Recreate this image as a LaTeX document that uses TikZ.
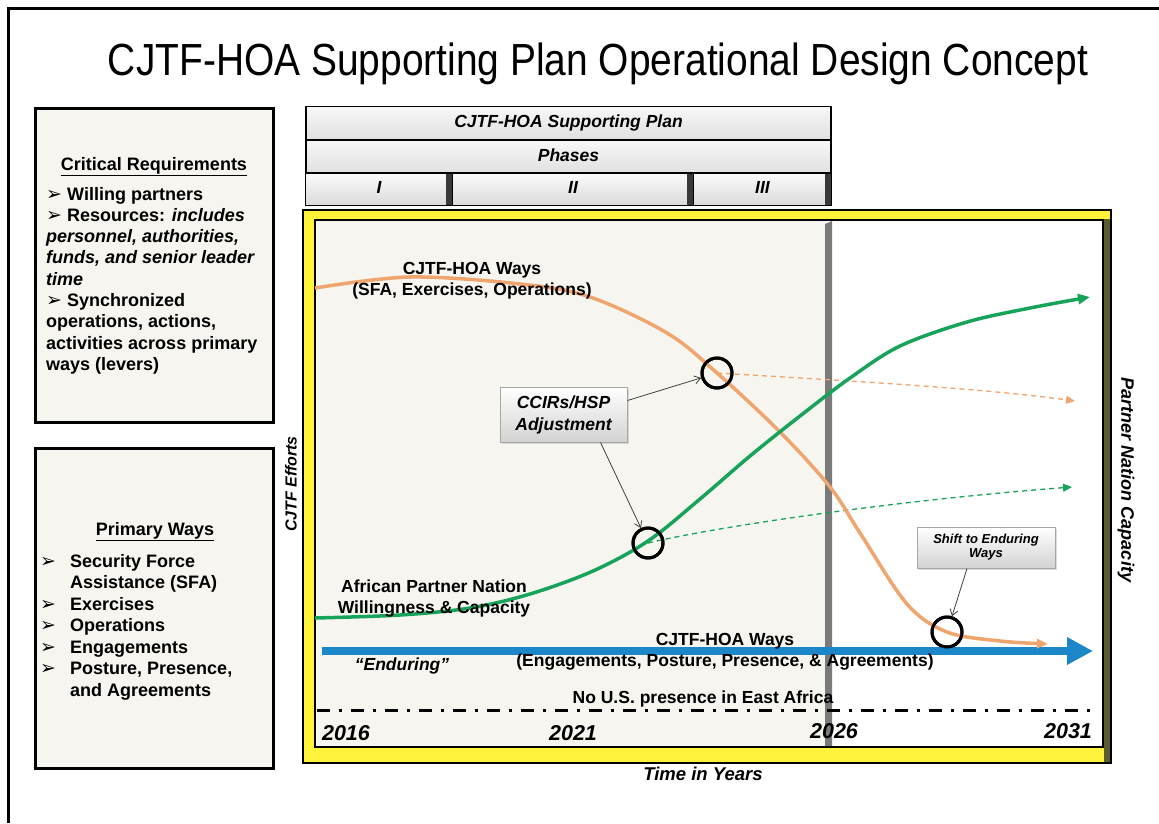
\documentclass[tikz,border=0pt]{standalone}
\usepackage{fontspec}
\setmainfont{Liberation Sans}
\newfontfamily\dejavu{DejaVu Sans}
\usetikzlibrary{arrows.meta,shadows,calc}

\definecolor{cjorange}{HTML}{F0A46E}
\definecolor{cjgreen}{HTML}{17A45A}
\definecolor{cjblue}{HTML}{1B87C9}
\definecolor{cjyellow}{HTML}{FFF23A}
\definecolor{cjolive}{HTML}{5E5A30}
\definecolor{paper}{HTML}{F6F5F0}
\definecolor{shadowgrey}{HTML}{7A7A7A}

\newcommand{\arrbullet}{{\dejavu\fontsize{19}{19}\selectfont\bfseries ➢}}

\begin{document}
\begin{tikzpicture}[x=1pt,y=-1pt,
  boxtxt/.style={font=\fontsize{18}{21}\selectfont\bfseries, inner sep=0pt, anchor=base west},
  lbl/.style={font=\fontsize{17.5}{21}\selectfont\bfseries, inner sep=0pt, anchor=base},
  yr/.style={font=\fontsize{21.5}{24}\selectfont\bfseries\itshape, inner sep=0pt, anchor=base},
  leftbox/.style={draw=black, line width=3pt, fill=paper, inner sep=0pt},
  hdrrow/.style={draw=black, line width=1.5pt, top color=gray!6, bottom color=gray!24,
     inner sep=0pt, minimum width=525pt, minimum height=33pt,
     text height=12.5pt, text depth=3.5pt, font=\fontsize{17.5}{20}\selectfont\bfseries\itshape},
  phasebtn/.style={draw=black, line width=1pt, top color=gray!3, bottom color=gray!28,
     inner sep=0pt, minimum height=32pt, text height=12.5pt, text depth=3.5pt,
     font=\fontsize{17.5}{20}\selectfont\bfseries\itshape,
     path picture={\fill[gray!45!black] ([xshift=-7pt]path picture bounding box.north east) rectangle (path picture bounding box.south east);}},
  bevel/.style={draw=gray!70, line width=1pt, top color=white, bottom color=gray!35,
     drop shadow={shadow xshift=2pt, shadow yshift=-2pt, fill=gray!55},
     inner sep=0pt, align=center},
  ring/.style={circle, draw=black, line width=3pt, minimum size=30pt, inner sep=0pt},
  pointer/.style={draw=black!75, line width=0.8pt, -{Straight Barb[length=6pt,width=8pt]}}
]

\useasboundingbox (0,0) rectangle (1159,823);
\fill[white] (0,0) rectangle (1159,823);

% outer frame
\draw[line width=3pt] (8,823) -- (8,8) -- (1159,8);

% title
\node[inner sep=0pt, anchor=base] (title) at (598,75)
  {\scalebox{0.865}[1]{\fontsize{45}{54}\selectfont CJTF-HOA Supporting Plan Operational Design Concept}};

% left boxes
\node[leftbox, minimum width=238pt, minimum height=314pt] (crbox) at (154,265) {};
\node[leftbox, minimum width=238pt, minimum height=320pt] (pwbox) at (154,608) {};

\node[lbl, font=\fontsize{18}{21}\selectfont\bfseries] (crt) at (154,170) {\underline{Critical Requirements}};
\node[boxtxt] (cr1) at (46,200)   {\makebox[21pt][l]{\arrbullet}Willing partners};
\node[boxtxt] (cr2) at (46,221.3) {\makebox[21pt][l]{\arrbullet}Resources: \textit{includes}};
\node[boxtxt] (cr3) at (46,242.6) {\textit{personnel, authorities,}};
\node[boxtxt] (cr4) at (46,263.9) {\textit{funds, and senior leader}};
\node[boxtxt] (cr5) at (46,285.2) {\textit{time}};
\node[boxtxt] (cr6) at (46,306.5) {\makebox[21pt][l]{\arrbullet}Synchronized};
\node[boxtxt] (cr7) at (46,327.8) {operations, actions,};
\node[boxtxt] (cr8) at (46,349.1) {activities across primary};
\node[boxtxt] (cr9) at (46,370.4) {ways (levers)};

\node[lbl, font=\fontsize{18}{21}\selectfont\bfseries] (pwt) at (155,535) {\underline{Primary Ways}};
\node[boxtxt] (pw1) at (40,567)   {\makebox[30pt][l]{\arrbullet}Security Force};
\node[boxtxt] (pw2) at (40,588.5) {\hspace*{30pt}Assistance (SFA)};
\node[boxtxt] (pw3) at (40,610)   {\makebox[30pt][l]{\arrbullet}Exercises};
\node[boxtxt] (pw4) at (40,631.5) {\makebox[30pt][l]{\arrbullet}Operations};
\node[boxtxt] (pw5) at (40,653)   {\makebox[30pt][l]{\arrbullet}Engagements};
\node[boxtxt] (pw6) at (40,674.5) {\makebox[30pt][l]{\arrbullet}Posture, Presence,};
\node[boxtxt] (pw7) at (40,696)   {\hspace*{30pt}and Agreements};

% phase header
\node[hdrrow] (plan) at (568.5,123) {CJTF-HOA Supporting Plan};
\node[hdrrow] (phases) at (568.5,156.5) {Phases};
\node[phasebtn, minimum width=147pt] (ph1) at (379,189) {I};
\node[phasebtn, minimum width=241pt] (ph2) at (573,189) {II};
\node[phasebtn, minimum width=138pt] (ph3) at (762.5,189) {III};

% chart frame
\draw[line width=2pt, fill=cjyellow] (303,210) rectangle (1111,763);
\fill[cjolive] (1104,219) rectangle (1110,762);
\draw[line width=1.5pt, fill=white] (315,220) rectangle (1103,747);
\fill[paper] (316,221) rectangle (826,746);
\fill[shadowgrey] (825,224) -- (832,221) -- (832,746) -- (825,746) -- cycle;

% dash-dot line
\draw[line width=3pt, dash pattern=on 13pt off 9pt on 3pt off 9pt] (317,710) -- (1097,710);

% circles
\node[ring] (c1) at (717,373) {};
\node[ring] (c2) at (648,543) {};
\node[ring] (c3) at (947,632) {};

% named free ends
\coordinate (oend) at (1050,644);
\coordinate (gend) at (1093,297);
\coordinate (odend) at (1075,401);
\coordinate (gdend) at (1072,487);
\coordinate (bstart) at (322,651);
\coordinate (bend) at (1093,651);

% blue enduring arrow
\draw[cjblue, line width=8pt, -{Triangle[length=26pt,width=26pt]}] (bstart) -- (bend);

% dashed branches
\draw[cjorange, line width=1.3pt, dash pattern=on 5pt off 4pt, -{Triangle[length=9pt,width=8pt]}]
  (c1.center) .. controls (850,381) and (980,388) .. (odend);
\draw[cjgreen, line width=1.3pt, dash pattern=on 5pt off 4pt, -{Triangle[length=9pt,width=8pt]}]
  (c2.center) .. controls (720,526) and (900,500) .. (gdend);

% orange curve
\draw[cjorange, line width=3.5pt, -{Triangle[length=11pt,width=9pt]}]
  plot[smooth, tension=0.55] coordinates {(315,288) (410,277) (520,284) (590,297) (667,333) (717,373) (780,432) (830,487) (860,533) (907,604) (947,632) (1000,641) (1048,644)};

% green curve
\draw[cjgreen, line width=3.5pt, -{Triangle[length=12pt,width=10pt]}]
  plot[smooth, tension=0.55] coordinates {(315,618) (400,615) (470,608) (530,594) (593,571) (648,541) (700,499) (750,456) (800,416) (850,378) (900,346) (967,322) (1030,308) (1090,297)};

% redraw rings on top
\node[ring] at (c1) {};
\node[ring] at (c2) {};
\node[ring] at (c3) {};

% callout boxes
\node[bevel, minimum width=127pt, minimum height=55pt, font=\fontsize{17.5}{22}\selectfont\bfseries\itshape] (ccir) at (563.5,414.5) {CCIRs/HSP\\Adjustment};
\node[bevel, minimum width=138pt, minimum height=41pt, font=\fontsize{13}{14}\selectfont\bfseries\itshape] (shift) at (986,547.5) {Shift to Enduring\\Ways};

\draw[pointer] ([yshift=14pt]ccir.east) -- (c1);
\draw[pointer] ([xshift=-27pt]ccir.south east) -- (c2);
\draw[pointer] ([xshift=-19pt]shift.south) -- (c3);

% labels
\node[lbl] (ow1) at (472,274) {CJTF-HOA Ways};
\node[lbl] (ow2) at (472,295) {(SFA, Exercises, Operations)};
\node[lbl] (ap1) at (434,592) {African Partner Nation};
\node[lbl] (ap2) at (434,613) {Willingness \& Capacity};
\node[lbl] (ew1) at (725,645) {CJTF-HOA Ways};
\node[lbl] (ew2) at (725,666) {(Engagements, Posture, Presence, \& Agreements)};
\node[lbl, font=\fontsize{17.5}{21}\selectfont\bfseries\itshape] (endur) at (402,670) {“Enduring”};
\node[lbl] (nous) at (703,703) {No U.S. presence in East Africa};

\node[yr] (y16) at (346,740) {2016};
\node[yr] (y21) at (573,740) {2021};
\node[yr] (y26) at (834,738) {2026};
\node[yr] (y31) at (1068,738) {2031};

\node[lbl, font=\fontsize{18.5}{21}\selectfont\bfseries\itshape] (time) at (703,780) {Time in Years};
\node[inner sep=0pt, rotate=90, font=\fontsize{16}{18}\selectfont\bfseries\itshape] (effort) at (291,484) {CJTF Efforts};
\node[inner sep=0pt, rotate=-90, font=\fontsize{18}{20}\selectfont\bfseries\itshape] (pncap) at (1126,480) {Partner Nation Capacity};

\end{tikzpicture}
\end{document}
